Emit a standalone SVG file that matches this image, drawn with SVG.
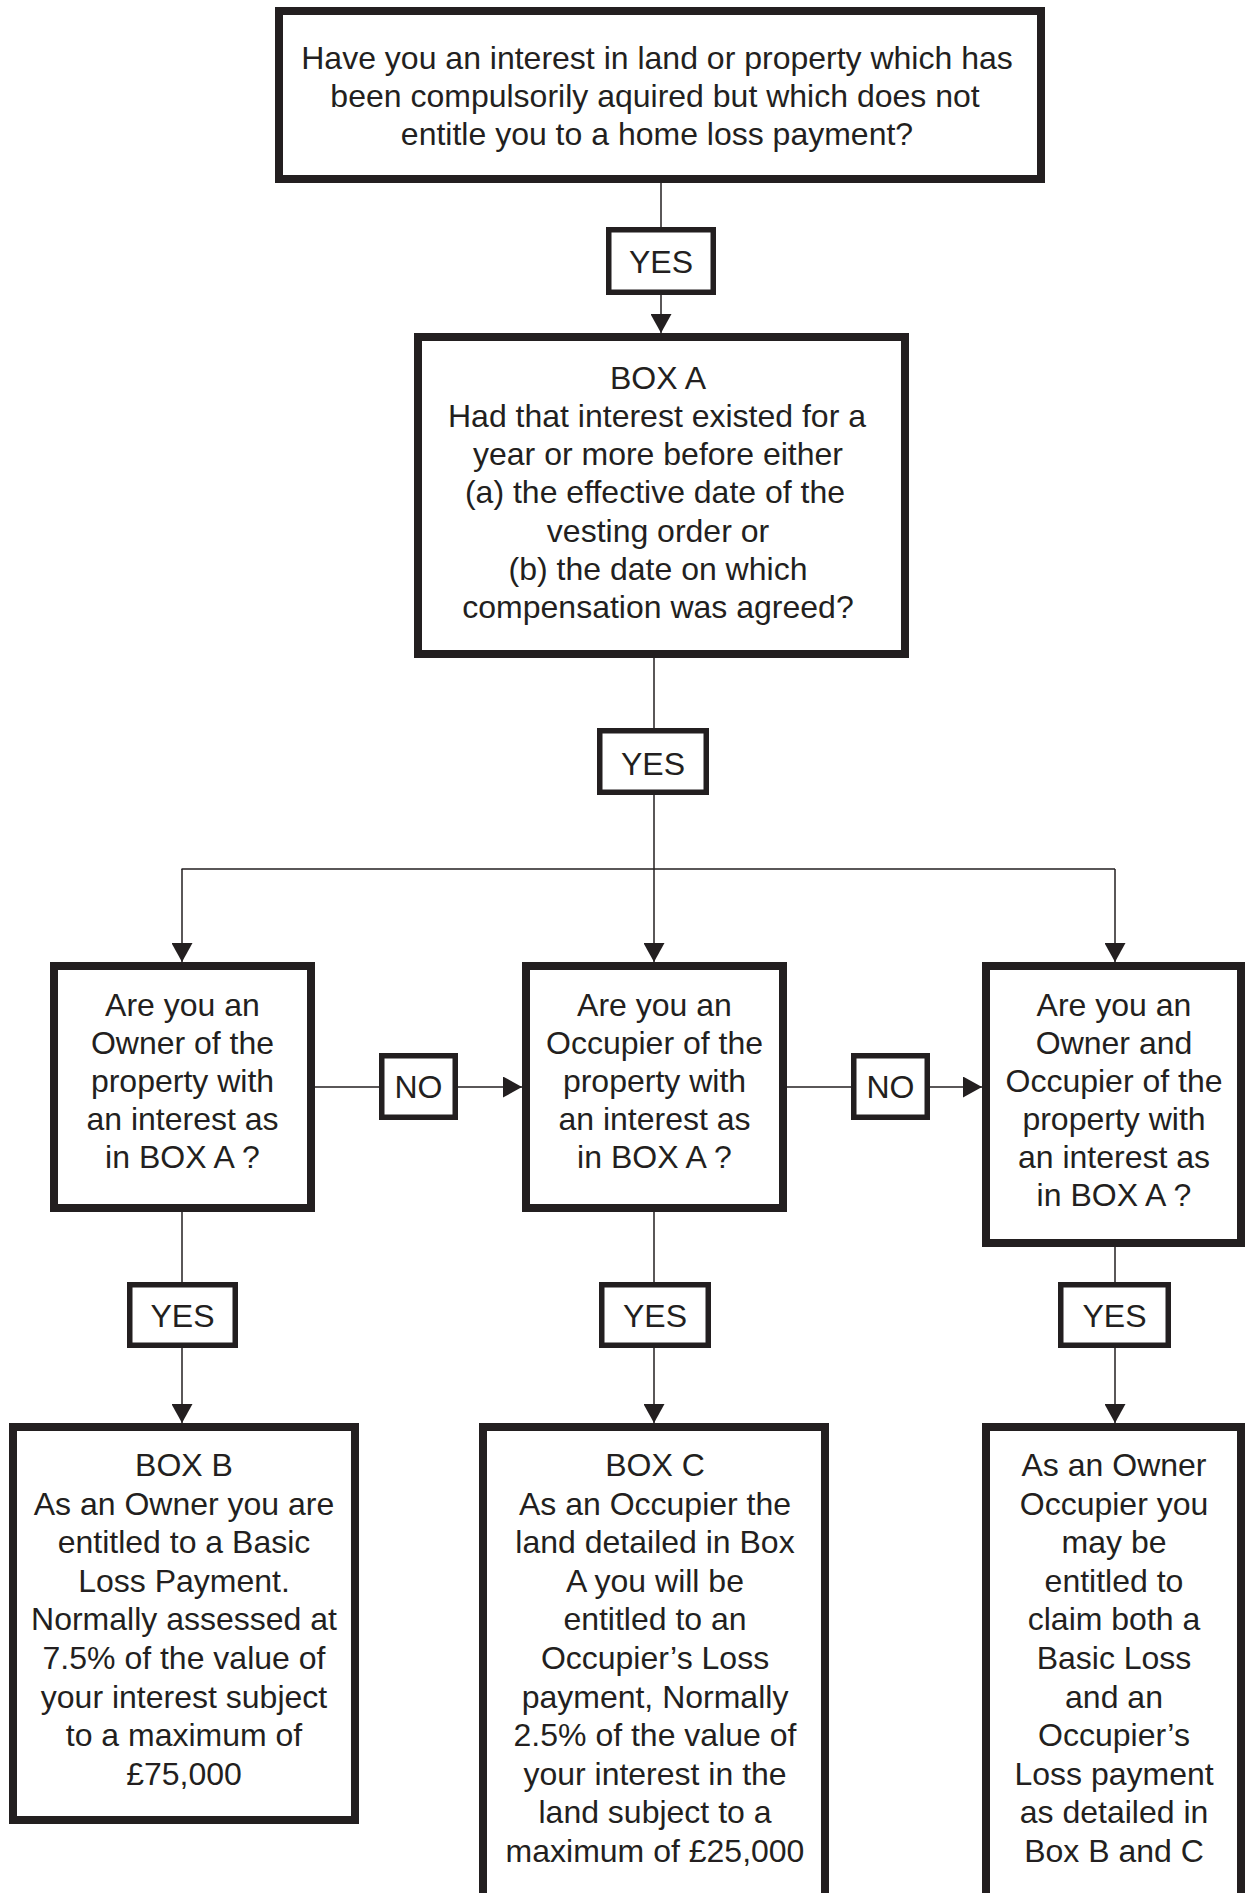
<svg xmlns="http://www.w3.org/2000/svg" width="1245" height="1893" viewBox="0 0 1245 1893">
<defs>
<style>
.box{fill:#fff;stroke:#231f20;stroke-width:8}
.lbl{fill:#fff;stroke:#231f20;stroke-width:5.5}
.t{font-family:"Liberation Sans",Arial,sans-serif;font-size:32px;fill:#231f20;text-anchor:middle}
.c{fill:none;stroke:#231f20;stroke-width:1.5}
</style>
<marker id="ah" markerUnits="userSpaceOnUse" markerWidth="20" markerHeight="21" refX="19" refY="10.5" orient="auto">
<path d="M0,0 L19,10.5 L0,21 z" fill="#231f20"/>
</marker>
</defs>
<rect width="1245" height="1893" fill="#fff"/>

<g id="connectors">
<line class="c" x1="661" y1="183" x2="661" y2="229"/>
<line class="c" x1="661" y1="295" x2="661" y2="333" marker-end="url(#ah)"/>
<line class="c" x1="654" y1="658" x2="654" y2="730"/>
<polyline class="c" points="654,795 654,869"/>
<line class="c" x1="181.5" y1="869" x2="1115" y2="869"/>
<line class="c" x1="182" y1="869" x2="182" y2="962" marker-end="url(#ah)"/>
<line class="c" x1="654" y1="869" x2="654" y2="962" marker-end="url(#ah)"/>
<line class="c" x1="1115" y1="869" x2="1115" y2="962" marker-end="url(#ah)"/>
<line class="c" x1="315" y1="1087" x2="381" y2="1087"/>
<line class="c" x1="458" y1="1087" x2="522" y2="1087" marker-end="url(#ah)"/>
<line class="c" x1="787" y1="1087" x2="853" y2="1087"/>
<line class="c" x1="930" y1="1087" x2="982" y2="1087" marker-end="url(#ah)"/>
<line class="c" x1="182" y1="1212" x2="182" y2="1284"/>
<line class="c" x1="182" y1="1348" x2="182" y2="1423" marker-end="url(#ah)"/>
<line class="c" x1="654" y1="1212" x2="654" y2="1284"/>
<line class="c" x1="654" y1="1348" x2="654" y2="1423" marker-end="url(#ah)"/>
<line class="c" x1="1115" y1="1247" x2="1115" y2="1284"/>
<line class="c" x1="1115" y1="1348" x2="1115" y2="1423" marker-end="url(#ah)"/>
</g>

<g id="start">
<rect class="box" x="279" y="11" width="762" height="168"/>
<text class="t"><tspan x="657" y="69">Have you an interest in land or property which has</tspan><tspan x="655" y="107">been compulsorily aquired but which does not</tspan><tspan x="657" y="145">entitle you to a home loss payment?</tspan></text>
</g>

<g id="yes1">
<rect class="lbl" x="608.75" y="229.75" width="104.5" height="62.5"/>
<text class="t" x="661" y="273">YES</text>
</g>

<g id="boxA">
<rect class="box" x="418" y="337" width="487" height="317"/>
<text class="t"><tspan x="658" y="389">BOX A</tspan><tspan x="657" y="427">Had that interest existed for a</tspan><tspan x="658" y="465">year or more before either</tspan><tspan x="655" y="503">(a) the effective date of the</tspan><tspan x="658" y="542">vesting order or</tspan><tspan x="658" y="580">(b) the date on which</tspan><tspan x="658" y="618">compensation was agreed?</tspan></text>
</g>

<g id="yes2">
<rect class="lbl" x="599.75" y="730.75" width="106.5" height="61.5"/>
<text class="t" x="653" y="775">YES</text>
</g>

<g id="owner">
<rect class="box" x="54" y="966" width="257" height="242"/>
<text class="t"><tspan x="182.5" y="1016">Are you an</tspan><tspan x="182.5" y="1054">Owner of the</tspan><tspan x="182.5" y="1092">property with</tspan><tspan x="182.5" y="1130">an interest as</tspan><tspan x="182.5" y="1168">in BOX A ?</tspan></text>
</g>

<g id="no1">
<rect class="lbl" x="381.75" y="1055.75" width="73.5" height="61.5"/>
<text class="t" x="418.5" y="1098">NO</text>
</g>

<g id="occupier">
<rect class="box" x="526" y="966" width="257" height="242"/>
<text class="t"><tspan x="654.5" y="1016">Are you an</tspan><tspan x="654.5" y="1054">Occupier of the</tspan><tspan x="654.5" y="1092">property with</tspan><tspan x="654.5" y="1130">an interest as</tspan><tspan x="654.5" y="1168">in BOX A ?</tspan></text>
</g>

<g id="no2">
<rect class="lbl" x="853.75" y="1055.75" width="73.5" height="61.5"/>
<text class="t" x="890.5" y="1098">NO</text>
</g>

<g id="ownerOccupier">
<rect class="box" x="986" y="966" width="255" height="277"/>
<text class="t"><tspan x="1114" y="1016">Are you an</tspan><tspan x="1114" y="1054">Owner and</tspan><tspan x="1114" y="1092">Occupier of the</tspan><tspan x="1114" y="1130">property with</tspan><tspan x="1114" y="1168">an interest as</tspan><tspan x="1114" y="1206">in BOX A ?</tspan></text>
</g>

<g id="yes3">
<rect class="lbl" x="129.75" y="1284.75" width="105.5" height="60.5"/>
<text class="t" x="182.5" y="1327">YES</text>
</g>
<g id="yes4">
<rect class="lbl" x="601.75" y="1284.75" width="106.5" height="60.5"/>
<text class="t" x="655" y="1327">YES</text>
</g>
<g id="yes5">
<rect class="lbl" x="1060.75" y="1284.75" width="107.5" height="60.5"/>
<text class="t" x="1114.5" y="1327">YES</text>
</g>

<g id="boxB">
<rect class="box" x="13" y="1427" width="342" height="393"/>
<text class="t"><tspan x="184" y="1476">BOX B</tspan><tspan x="184" y="1515">As an Owner you are</tspan><tspan x="184" y="1553">entitled to a Basic</tspan><tspan x="184" y="1592">Loss Payment.</tspan><tspan x="184" y="1630">Normally assessed at</tspan><tspan x="184" y="1669">7.5% of the value of</tspan><tspan x="184" y="1708">your interest subject</tspan><tspan x="184" y="1746">to a maximum of</tspan><tspan x="184" y="1785">£75,000</tspan></text>
</g>

<g id="boxC">
<rect class="box" x="483" y="1427" width="342" height="490"/>
<text class="t"><tspan x="655" y="1476">BOX C</tspan><tspan x="655" y="1515">As an Occupier the</tspan><tspan x="655" y="1553">land detailed in Box</tspan><tspan x="655" y="1592">A you will be</tspan><tspan x="655" y="1630">entitled to an</tspan><tspan x="655" y="1669">Occupier’s Loss</tspan><tspan x="655" y="1708">payment, Normally</tspan><tspan x="655" y="1746">2.5% of the value of</tspan><tspan x="655" y="1785">your interest in the</tspan><tspan x="655" y="1823">land subject to a</tspan><tspan x="655" y="1862">maximum of £25,000</tspan></text>
</g>

<g id="boxD">
<rect class="box" x="986" y="1427" width="255" height="490"/>
<text class="t"><tspan x="1114" y="1476">As an Owner</tspan><tspan x="1114" y="1515">Occupier you</tspan><tspan x="1114" y="1553">may be</tspan><tspan x="1114" y="1592">entitled to</tspan><tspan x="1114" y="1630">claim both a</tspan><tspan x="1114" y="1669">Basic Loss</tspan><tspan x="1114" y="1708">and an</tspan><tspan x="1114" y="1746">Occupier’s</tspan><tspan x="1114" y="1785">Loss payment</tspan><tspan x="1114" y="1823">as detailed in</tspan><tspan x="1114" y="1862">Box B and C</tspan></text>
</g>
</svg>
